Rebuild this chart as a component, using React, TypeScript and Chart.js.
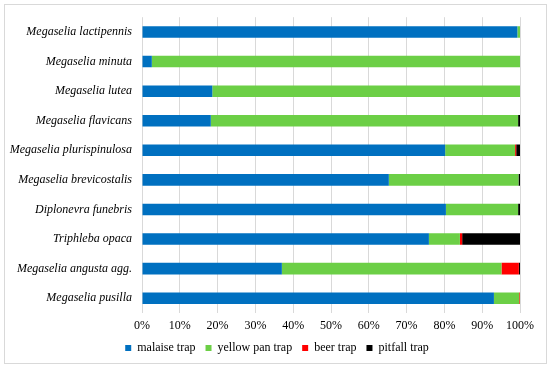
import React, { useEffect, useRef } from "react";
import { Chart, registerables } from "chart.js";

Chart.register(...registerables);

const categories = [
  "Megaselia lactipennis",
  "Megaselia minuta",
  "Megaselia lutea",
  "Megaselia flavicans",
  "Megaselia plurispinulosa",
  "Megaselia brevicostalis",
  "Diplonevra funebris",
  "Triphleba opaca",
  "Megaselia angusta agg.",
  "Megaselia pusilla",
];

const malaiseTrap = [99.3, 2.6, 18.6, 18.2, 80.2, 65.3, 80.4, 75.9, 37.0, 93.1];
const yellowPanTrap = [0.7, 97.4, 81.4, 81.3, 18.5, 34.3, 19.1, 8.2, 58.1, 6.7];
const beerTrap = [0, 0, 0, 0, 0.3, 0, 0, 0.6, 4.6, 0.2];
const pitfallTrap = [0, 0, 0, 0.5, 1.0, 0.4, 0.5, 15.3, 0.3, 0];

const seriesNames = ["malaise trap", "yellow pan trap", "beer trap", "pitfall trap"];
const seriesColors = ["#0070C0", "#6CCF46", "#FF0000", "#000000"];
const xTicks = [0, 10, 20, 30, 40, 50, 60, 70, 80, 90, 100];

const serif = "'Liberation Serif', 'Times New Roman', serif";

const shiftLegend = {
  id: "shiftLegend",
  afterLayout(chart: any) {
    const l = chart.legend;
    if (l) {
      l.left += 17;
      l.right += 17;
    }
  },
};

export default function App() {
  const ref = useRef<HTMLCanvasElement | null>(null);

  useEffect(() => {
    if (!ref.current) return;
    const values = [malaiseTrap, yellowPanTrap, beerTrap, pitfallTrap];
    const chart = new Chart(ref.current, {
      type: "bar",
      data: {
        labels: categories,
        datasets: values.map((v, i) => ({
          label: seriesNames[i],
          data: v,
          backgroundColor: seriesColors[i],
          borderWidth: 0,
          barPercentage: 0.39,
          categoryPercentage: 1,
        })),
      },
      plugins: [shiftLegend],
      options: {
        indexAxis: "y",
        responsive: false,
        animation: false,
        devicePixelRatio: 1,
        layout: { padding: { top: 17, right: 30, left: 0, bottom: 5 } },
        plugins: {
          legend: {
            position: "bottom",
            labels: {
              boxWidth: 6,
              boxHeight: 6,
              padding: 10,
              color: "#000",
              font: { family: serif, size: 12 },
            },
          },
          tooltip: { enabled: false },
        },
        scales: {
          x: {
            type: "linear",
            stacked: true,
            min: 0,
            max: 100,
            afterBuildTicks: (scale: any) => {
              scale.ticks = xTicks.map((v) => ({ value: v }));
            },
            afterFit: (scale: any) => {
              scale.height = 19;
            },
            grid: { color: "#d9d9d9", drawTicks: false, lineWidth: 1 },
            border: { display: false },
            ticks: {
              padding: 6,
              color: "#000",
              font: { family: serif, size: 12 },
              callback: (v: any) => v + "%",
            },
          },
          y: {
            type: "category",
            stacked: true,
            afterFit: (scale: any) => {
              scale.width = 142;
            },
            grid: { display: false, drawTicks: false },
            border: { display: false },
            ticks: {
              padding: 10,
              color: "#000",
              font: { family: serif, size: 12, style: "italic" },
            },
          },
        },
      },
    });
    return () => chart.destroy();
  }, []);

  return (
    <div style={{ position: "absolute", left: 0, top: 0, width: 550, height: 369, background: "#fff" }}>
      <div
        style={{
          position: "absolute",
          left: 4,
          top: 4,
          width: 541,
          height: 358,
          border: "1px solid #d9d9d9",
        }}
      />
      <canvas ref={ref} width={550} height={369} style={{ position: "absolute", left: 0, top: 0 }} />
    </div>
  );
}
